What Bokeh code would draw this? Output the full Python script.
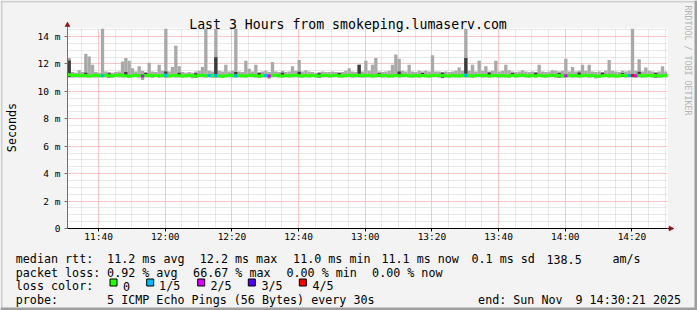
import math
import pandas as pd
from bokeh.plotting import figure
from bokeh.models import Range1d, FixedTicker, DatetimeTickFormatter, ColumnDataSource
from bokeh.core.properties import value
from bokeh.embed import file_html
from bokeh.resources import INLINE

# ---------------- data (1-minute bins) ----------------
START = "2025-11-09 11:30:40"
N_BINS = 180

median_ms = [
    11.20, 11.17, 11.15, 11.18, 11.14, 11.16, 11.12, 11.15, 11.17, 11.13,
    11.15, 11.18, 11.14, 11.12, 11.16, 11.19, 11.15, 11.13, 11.10, 11.14,
    11.17, 11.15, 11.12, 11.16, 11.18, 11.14, 11.16, 11.13, 11.15, 11.17,
    11.12, 11.15, 11.18, 11.14, 11.11, 11.13, 11.16, 11.14, 11.12, 11.15,
    11.17, 11.14, 11.16, 11.13, 11.15, 11.12, 11.10, 11.14, 11.17, 11.15,
    11.13, 11.16, 11.14, 11.12, 11.15, 11.18, 11.13, 11.11, 11.14, 11.16,
    11.12, 11.15, 11.17, 11.14, 11.12, 11.16, 11.13, 11.15, 11.18, 11.14,
    11.12, 11.15, 11.13, 11.16, 11.14, 11.12, 11.15, 11.17, 11.13, 11.15,
    11.16, 11.14, 11.12, 11.15, 11.17, 11.13, 11.15, 11.18, 11.14, 11.16,
    11.15, 11.12, 11.14, 11.17, 11.13, 11.15, 11.12, 11.14, 11.16, 11.13,
    11.15, 11.17, 11.14, 11.12, 11.15, 11.13, 11.16, 11.14, 11.12, 11.15,
    11.17, 11.13, 11.15, 11.14, 11.12, 11.16, 11.14, 11.13, 11.15, 11.17,
    11.14, 11.12, 11.15, 11.17, 11.13, 11.15, 11.12, 11.14, 11.16, 11.13,
    11.15, 11.14, 11.12, 11.16, 11.13, 11.15, 11.17, 11.14, 11.12, 11.15,
    11.13, 11.16, 11.14, 11.12, 11.15, 11.17, 11.13, 11.15, 11.12, 11.14,
    11.16, 11.13, 11.15, 11.12, 11.14, 11.17, 11.13, 11.15, 11.12, 11.10,
    11.14, 11.16, 11.13, 11.15, 11.12, 11.14, 11.17, 11.13, 11.15, 11.16,
    11.13, 11.15, 11.12, 11.14, 11.16, 11.13, 11.15, 11.12, 11.14, 11.15,
]

smoke_max = [
    12.43, 11.40, 11.35, 11.54, 11.40, 12.73, 12.53, 11.93, 11.40, 11.35,
    14.60, 11.45, 11.40, 11.35, 11.40, 11.45, 12.18, 12.43, 12.23, 11.69,
    11.45, 11.83, 11.50, 11.40, 12.08, 11.45, 11.40, 11.93, 11.50, 14.60,
    11.45, 11.78, 13.32, 11.83, 11.40, 11.35, 11.40, 11.35, 11.45, 11.50,
    11.78, 14.60, 11.50, 11.45, 14.60, 11.50, 11.44, 11.93, 11.45, 11.50,
    14.60, 11.45, 11.40, 12.23, 11.64, 11.45, 11.93, 11.40, 11.45, 11.50,
    11.40, 12.13, 11.45, 11.40, 11.50, 11.40, 11.45, 11.83, 11.50, 12.28,
    11.45, 11.54, 11.45, 11.40, 11.35, 11.40, 11.45, 11.40, 11.40, 11.45,
    11.40, 11.35, 11.40, 11.50, 11.69, 11.45, 11.40, 11.93, 11.45, 12.23,
    11.50, 11.93, 12.43, 11.45, 11.40, 11.44, 11.50, 11.93, 12.68, 12.38,
    11.50, 11.45, 11.93, 11.45, 11.40, 11.50, 11.45, 11.50, 11.45, 12.63,
    11.44, 11.45, 11.40, 11.45, 11.40, 11.45, 11.50, 11.74, 11.50, 14.60,
    11.50, 11.93, 11.45, 12.23, 11.50, 11.83, 11.45, 11.50, 12.23, 11.45,
    11.50, 11.93, 11.54, 11.45, 11.40, 11.45, 11.54, 11.45, 11.40, 11.45,
    11.40, 11.93, 11.45, 11.40, 11.45, 11.54, 11.50, 11.45, 11.50, 12.38,
    11.45, 11.78, 11.45, 11.50, 11.93, 11.50, 11.93, 11.45, 11.40, 11.45,
    11.40, 11.50, 12.28, 11.50, 11.45, 11.40, 11.50, 11.45, 11.50, 14.60,
    11.50, 12.33, 11.45, 11.74, 11.50, 11.45, 11.40, 11.45, 11.83, 11.45,
]

smoke_min = [
    11.02, 11.00, 11.03, 11.01, 11.04, 11.00, 11.02, 11.03, 11.01, 11.04,
    11.00, 11.03, 11.02, 11.00, 11.04, 11.02, 11.01, 11.03, 10.98, 11.02,
    11.04, 11.01, 10.82, 11.02, 11.03, 11.00, 11.04, 11.01, 11.02, 10.98,
    11.02, 11.04, 11.01, 11.03, 11.00, 11.02, 11.04, 10.95, 11.01, 11.03,
    11.02, 11.00, 11.03, 11.01, 10.97, 11.02, 10.98, 11.03, 11.04, 11.01,
    11.00, 11.03, 11.02, 11.00, 11.04, 11.02, 11.01, 10.98, 11.03, 11.00,
    10.92, 11.03, 11.04, 11.01, 11.00, 11.03, 11.01, 11.02, 11.04, 11.01,
    11.00, 11.03, 11.01, 11.04, 11.02, 11.00, 11.03, 11.04, 11.01, 11.02,
    11.04, 11.01, 11.00, 11.03, 11.04, 11.01, 11.02, 11.03, 11.01, 11.03,
    11.02, 11.00, 11.02, 11.04, 11.01, 11.03, 11.00, 11.02, 11.04, 11.01,
    11.03, 11.04, 11.01, 11.00, 11.03, 11.01, 11.04, 11.02, 11.00, 11.03,
    11.04, 11.01, 10.95, 11.02, 11.00, 11.03, 11.02, 11.01, 11.03, 11.00,
    11.02, 11.00, 11.03, 11.04, 11.01, 11.03, 11.00, 11.02, 11.04, 11.01,
    11.03, 11.02, 11.00, 11.04, 11.01, 11.03, 11.04, 11.02, 11.00, 11.03,
    11.01, 11.04, 11.02, 11.00, 11.03, 11.04, 11.01, 11.03, 11.00, 11.02,
    11.04, 11.01, 11.03, 11.00, 11.02, 11.04, 11.01, 11.03, 10.93, 10.98,
    11.02, 11.04, 11.01, 11.03, 11.00, 11.02, 11.04, 11.01, 11.03, 11.00,
    11.01, 11.03, 11.00, 11.02, 11.04, 11.01, 11.03, 11.00, 11.02, 11.03,
]

# inner (dark) smoke, only where it shows
dark_idx = [0, 5, 12, 17, 23, 29, 33, 38, 44, 50,
            57, 64, 69, 75, 81, 87, 93, 99, 106, 112,
            119, 126, 133, 140, 147, 153, 160, 166, 171, 176]
dark_lo = [11.05, 11.05, 11.00, 11.06, 11.05, 11.05, 11.06, 11.00, 11.05, 11.05,
           11.05, 11.06, 11.05, 11.00, 11.05, 11.05, 11.05, 11.05, 11.06, 11.00,
           11.05, 11.05, 11.05, 11.06, 11.00, 11.05, 11.05, 11.05, 11.05, 11.00]
dark_hi = [12.25, 11.35, 11.32, 11.40, 11.33, 11.45, 11.35, 11.32, 12.48, 11.40,
           11.33, 11.36, 11.42, 11.32, 11.35, 11.93, 11.34, 11.45, 11.33, 11.35,
           12.43, 11.38, 11.33, 11.36, 11.34, 11.38, 11.35, 11.33, 11.42, 11.34]

# lost pings (out of 5) where not zero
loss_idx = [10, 22, 29, 42, 44, 50, 59, 60, 119, 149, 168, 169, 170]
loss_val = [1, 2, 1, 1, 1, 1, 1, 2, 1, 2, 1, 4, 2]

loss_labels = ["0", "1/5", "2/5", "3/5", "4/5"]
loss_colors = ["#26ff00", "#00b8ff", "#dd00ff", "#5500ff", "#ff0000"]

x_tick_labels = ["11:40", "12:00", "12:20", "12:40", "13:00", "13:20", "13:40", "14:00", "14:20"]
y_ticks = [0, 2, 4, 6, 8, 10, 12, 14]
y_tick_labels = ["0", "2 m", "4 m", "6 m", "8 m", "10 m", "12 m", "14 m"]

title_text = "Last 3 Hours from smokeping.lumaserv.com"
row1 = ["median rtt:", "11.2 ms avg", "12.2 ms max", "11.0 ms min", "11.1 ms now",
        "0.1 ms sd", "138.5", "am/s"]
row2 = ["packet loss:", "0.92 % avg", "66.67 % max", "0.00 % min", "0.00 % now"]
row3_head = "loss color:"
row4 = ["probe:", "5 ICMP Echo Pings (56 Bytes) every 30s", "end: Sun Nov", "9 14:30:21 2025"]

for arr in (median_ms, smoke_max, smoke_min):
    assert len(arr) == N_BINS
assert len(dark_idx) == len(dark_lo) == len(dark_hi)
assert len(loss_idx) == len(loss_val)

# ---------------- geometry ----------------
W, H = 697, 310
FL, FR, FT, FB = 67, 667, 28, 228        # frame edges in page pixels
YMAX = 14.58
MIN = 60_000
EPOCH = pd.Timestamp("1970-01-01")
T0 = (pd.Timestamp(START) - EPOCH) // pd.Timedelta("1ms")
T1 = T0 + N_BINS * MIN

# ---------------- chart figure (data, scales, axes, grid) ----------------
p = figure(width=W, height=H, x_axis_type="datetime", output_backend="svg",
           toolbar_location=None, title=None,
           x_range=Range1d(T0, T1), y_range=Range1d(0, YMAX),
           min_border_left=FL, min_border_right=W - FR,
           min_border_top=FT, min_border_bottom=H - FB)
p.outline_line_color = None
p.background_fill_color = "white"
p.border_fill_color = "#f3f3f3"


def hm_ms(s):
    return (pd.Timestamp("2025-11-09 " + s) - EPOCH) // pd.Timedelta("1ms")


x_major = [hm_ms(s) for s in x_tick_labels]
x_minor = [hm_ms("11:35") + k * 5 * MIN for k in range(0, 36)]
x_minor = [v for v in x_minor if v not in x_major and T0 <= v <= T1]
y_minor = [k * 0.5 for k in range(1, 30) if k % 4 != 0]

p.xaxis.ticker = FixedTicker(ticks=x_major, minor_ticks=x_minor)
p.xaxis.formatter = DatetimeTickFormatter(minutes="%H:%M", hourmin="%H:%M", hours="%H:%M",
                                          minsec="%H:%M", seconds="%H:%M", days="%H:%M")
p.yaxis.ticker = FixedTicker(ticks=y_ticks, minor_ticks=y_minor)
p.yaxis.major_label_overrides = {v: t for v, t in zip(y_ticks, y_tick_labels)}

for ax in (p.xaxis, p.yaxis):
    ax.major_label_text_font = "DejaVu Sans Mono"
    ax.major_label_text_font_size = "9.5px"
    ax.major_label_text_color = "black"
    ax.minor_tick_line_color = None
    ax.major_tick_in = 0
    ax.major_tick_out = 3
p.xaxis.axis_line_color = "black"
p.xaxis.major_tick_line_color = "black"
p.xaxis.major_label_standoff = -2
p.yaxis.axis_line_color = "#707070"
p.yaxis.major_tick_line_color = "#707070"
p.yaxis.major_label_standoff = 3

for g in (p.xgrid, p.ygrid):
    g.grid_line_color = "#f09090"
    g.grid_line_dash = "1 1"
    g.minor_grid_line_color = "#d0d0d0"
    g.minor_grid_line_dash = "1 1"

starts = [T0 + i * MIN for i in range(N_BINS)]
centers = [s + MIN / 2 for s in starts]
src = ColumnDataSource(dict(x=centers, top=smoke_max, bottom=smoke_min))
p.vbar(x="x", width=MIN, top="top", bottom="bottom", source=src,
       fill_color="#a9a9a9", line_color=None)

dsrc = ColumnDataSource(dict(x=[centers[i] for i in dark_idx], top=dark_hi, bottom=dark_lo))
p.vbar(x="x", width=MIN, top="top", bottom="bottom", source=dsrc,
       fill_color="#3c3c3c", line_color=None)

edges = starts + [T1]
p.step(x=edges, y=median_ms + [median_ms[-1]], mode="after",
       line_color=loss_colors[0], line_width=3)

lsrc = ColumnDataSource(dict(
    x0=[starts[i] for i in loss_idx], x1=[starts[i] + MIN for i in loss_idx],
    y=[median_ms[i] for i in loss_idx], c=[loss_colors[v] for v in loss_val]))
p.segment(x0="x0", x1="x1", y0="y", y1="y", color="c", line_width=3, source=lsrc)

# ---------------- overlay figure: page texts & decorations (pixel space) ----------------
ov = figure(width=W, height=H, x_range=Range1d(0, W), y_range=Range1d(0, H),
            output_backend="svg", toolbar_location=None, title=None,
            x_axis_location=None, y_axis_location=None,
            min_border_left=0, min_border_right=0, min_border_top=0, min_border_bottom=0)
ov.outline_line_color = None
ov.background_fill_alpha = 0
ov.border_fill_alpha = 0
ov.grid.visible = False
ov.styles = {"position": "absolute", "left": "0px", "top": "0px"}

FONT = value("DejaVu Sans Mono")


def txt(items, size, align="left", baseline="alphabetic", color="black", angle=0.0):
    xs = [a for a, _, _ in items]
    ys = [H - b for _, b, _ in items]
    ts = [t for _, _, t in items]
    ov.text(x=xs, y=ys, text=ts, text_font=FONT, text_font_size=value(size),
            text_align=align, text_baseline=baseline, text_color=color, angle=angle)


txt([(347.5, 24, title_text)], "13.2px", align="center")
txt([(11, 127, "Seconds")], "11.7px", align="center", baseline="middle", angle=math.pi / 2)
txt([(687, 5, "RRDTOOL / TOBI OETIKER")], "8.3px", baseline="middle",
    color="#b4b4b4", angle=-math.pi / 2)

legend_items = []
for t, x in zip(row1, [16, 107.3, 200, 293.3, 381.7, 471.7, 546.7, 612.7]):
    legend_items.append((x - 0.7, 258.5, t))
for t, x in zip(row2, [16, 107.3, 193.3, 286.7, 372.3]):
    legend_items.append((x - 0.7, 272, t))
legend_items.append((16 - 0.7, 285.7, row3_head))
box_x = [109, 145.7, 196.7, 247.3, 298.3]
txt_x = [123.3, 159.3, 210.7, 261.7, 312.7]
for lbl, x in zip(loss_labels, txt_x):
    legend_items.append((x - 0.7, 285.7, lbl))
for t, x in zip(row4, [16, 107.3, 478.3, 575.7]):
    legend_items.append((x - 0.7, 299.3, t))
txt(legend_items, "11.7px")

ov.quad(left=[b + 0.5 for b in box_x], right=[b + 7.5 for b in box_x],
        top=[H - 278.5] * 5, bottom=[H - 285.5] * 5,
        fill_color=loss_colors, line_color="black", line_width=1)

# axis arrows
ARROW = "#8e1414"
ov.segment(x0=[67, 667], y0=[H - 28, H - 228], x1=[67, 669], y1=[H - 25, H - 228],
           line_color=["#707070", "black"], line_width=1)
ov.patches(xs=[[64.5, 67, 69.5], [668.5, 673.5, 668.5]],
           ys=[[H - 26, H - 21.5, H - 26], [H - 225.5, H - 228, H - 230.5]],
           fill_color=ARROW, line_color=ARROW, line_width=0.5)

# outer 3-D frame of the image
ov.quad(left=[0, 0, 0, W - 3], right=[W, 2, W, W], top=[H, H, 3, H], bottom=[H - 2, 0, 0, 0],
        fill_color=["#cfcfcf", "#cfcfcf", "#9e9e9e", "#9e9e9e"], line_color=None)

# two independent roots: the overlay is absolutely positioned over the chart
open("out.html", "w").write(file_html([p, ov], INLINE))
